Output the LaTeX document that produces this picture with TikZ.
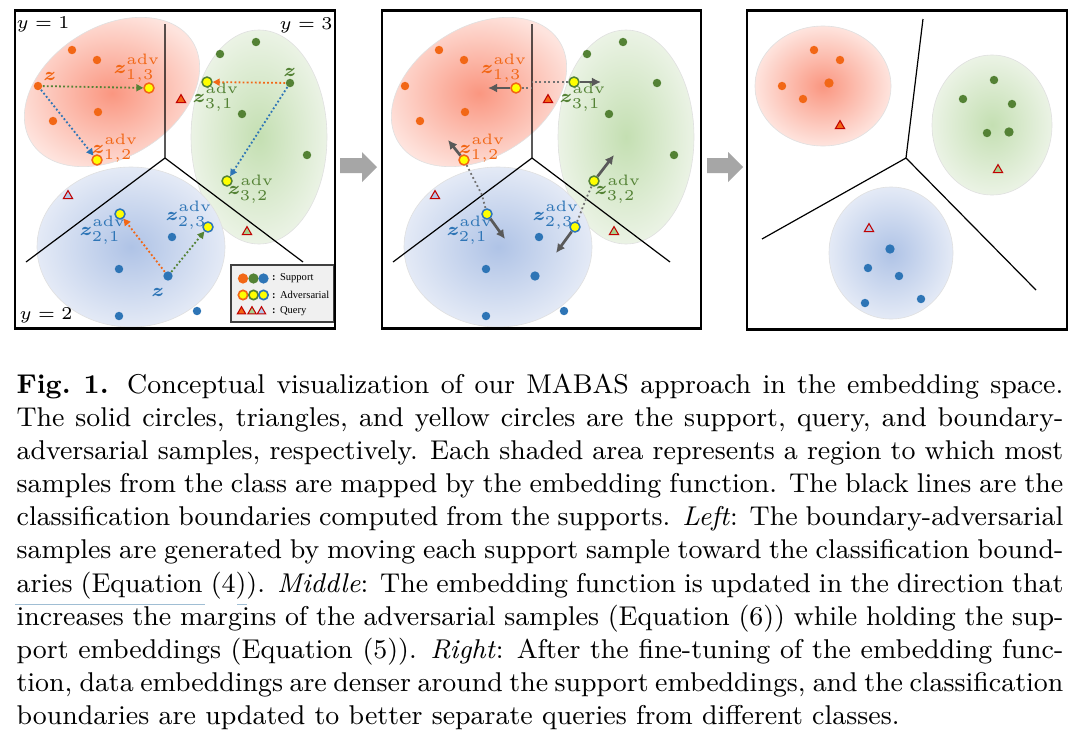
\documentclass[tikz,border=0pt]{standalone}
\usepackage{amsmath,bm}
\usepackage{fontspec}
\newfontfamily\legendfont{Liberation Serif}
\usetikzlibrary{arrows.meta,shapes.geometric}

\definecolor{cor}{RGB}{242,103,22}
\definecolor{cgr}{RGB}{84,130,53}
\definecolor{cbl}{RGB}{46,117,182}
\definecolor{cyel}{RGB}{255,255,0}
\definecolor{cqred}{RGB}{192,0,0}
\definecolor{cgl}{RGB}{169,209,142}
\definecolor{cbll}{RGB}{180,199,231}
\definecolor{redin}{RGB}{250,150,128}
\definecolor{redout}{RGB}{254,228,222}
\definecolor{grin}{RGB}{196,223,178}
\definecolor{grout}{RGB}{235,243,229}
\definecolor{blin}{RGB}{175,195,230}
\definecolor{blout}{RGB}{228,234,246}
\definecolor{darkg}{RGB}{89,89,89}
\definecolor{blockg}{RGB}{166,166,166}
\definecolor{linkblue}{RGB}{160,190,212}

\newcommand\advlab[1]{$\bm{z}^{\raisebox{0.35pt}{$\scriptstyle\mathrm{adv}$}}_{#1}$}

\tikzset{
 sdot/.style={circle, inner sep=0pt, minimum size=2.8pt, fill=#1},
 bigdot/.style={circle, inner sep=0pt, minimum size=3.1pt, fill=#1},
 adv/.style={circle, inner sep=0pt, minimum size=3.3pt, fill=cyel, draw=#1, line width=0.5pt},
 qtri/.style={regular polygon, regular polygon sides=3, inner sep=0pt, minimum size=3.6pt, fill=#1, draw=cqred, line width=0.35pt},
 lab/.style={text=#1, inner sep=0pt, font=\fontsize{6}{7}\selectfont},
 dotarr/.style={draw=#1, line width=0.6pt, dash pattern=on 0.6pt off 0.75pt, -{Triangle[length=2.3pt,width=2.3pt,fill=#1]}},
 gdot/.style={draw=darkg!85, line width=0.6pt, dash pattern=on 0.6pt off 0.9pt},
 garr/.style={draw=darkg, line width=0.9pt, -{Latex[length=3pt,width=3pt]}},
 bnd/.style={draw=black, line width=0.4pt},
 panelframe/.style={draw=black, line width=0.75pt},
 ellrim/.style={draw=black!12, line width=0.2pt},
 legdot/.style={circle, inner sep=0pt, minimum size=3.4pt, fill=#1},
 legadv/.style={circle, inner sep=0pt, minimum size=3.1pt, fill=cyel, draw=#1, line width=0.55pt},
 legtri/.style={regular polygon, regular polygon sides=3, inner sep=0pt, minimum size=3.2pt, fill=#1, draw=cqred, line width=0.35pt},
 legtext/.style={inner sep=0pt, anchor=west, font=\legendfont\fontsize{3.5}{4.2}\selectfont},
 blockarrow/.style={fill=blockg, draw=none},
}

\newcommand\commonpanel{%
  \shade[inner color=redin, outer color=redout, ellrim, rotate around={32:(112,92)}] (112,92) ellipse [x radius=95, y radius=65];
  \shade[inner color=grin, outer color=grout, ellrim] (259,137) ellipse [x radius=68, y radius=107];
  \shade[inner color=blin, outer color=blout, ellrim] (131,247) ellipse [x radius=94, y radius=80];
  \coordinate (J) at (165,158);
  \coordinate (BT) at (165,24);
  \coordinate (BL) at (26,262);
  \coordinate (BR) at (303,262);
  \draw[bnd] (BT) -- (J) -- (BL);
  \draw[bnd] (J) -- (BR);
  \node[sdot=cor] (r1) at (72,50) {};
  \node[sdot=cor] (r2) at (97,60) {};
  \node[sdot=cor] (rz) at (38,86) {};
  \node[sdot=cor] (r4) at (98,112) {};
  \node[sdot=cor] (r5) at (53,121) {};
  \node[sdot=cgr] (g1) at (256,42) {};
  \node[sdot=cgr] (g2) at (220,54) {};
  \node[sdot=cgr] (gz) at (290,83) {};
  \node[sdot=cgr] (g4) at (242,114) {};
  \node[sdot=cgr] (g5) at (307,155) {};
  \node[sdot=cbl] (b1) at (172,237) {};
  \node[sdot=cbl] (b2) at (119,269) {};
  \node[bigdot=cbl] (bz) at (168,276) {};
  \node[sdot=cbl] (b4) at (119,316) {};
  \node[sdot=cbl] (b5) at (197,311) {};
  \node[qtri=cor] (t1) at (181,100) {};
  \node[qtri=cgl] (t3) at (247,232) {};
  \node[qtri=cbll] (t2) at (68,196) {};
  \node[adv=cor] (a13) at (149,88) {};
  \node[adv=cor] (a12) at (97,160) {};
  \node[adv=cgr] (a31) at (207,82) {};
  \node[adv=cgr] (a32) at (227,181) {};
  \node[adv=cbl] (a21) at (120,214) {};
  \node[adv=cbl] (a23) at (208,227) {};
  \node[lab=cor] (l13) at (137,68) {\advlab{1,3}};
  \node[lab=cor] (l12) at (115,148) {\advlab{1,2}};
  \node[lab=cgr] (l31) at (216,97) {\advlab{3,1}};
  \node[lab=cgr] (l32) at (251,189) {\advlab{3,2}};
  \node[lab=cbl] (l21) at (103,230) {\advlab{2,1}};
  \node[lab=cbl] (l23) at (189,215) {\advlab{2,3}};
}

\begin{document}
\begin{tikzpicture}[x=0.3315pt, y=-0.3315pt]
\useasboundingbox (0,0) rectangle (1077,732);
\fill[white] (0,0) rectangle (1077,732);

% ---------- left panel ----------
\begin{scope}[name prefix=L-]
  \commonpanel
  \node[lab=cor] (zr) at (50,76) {$\bm{z}$};
  \node[lab=cgr] (zg) at (290,72) {$\bm{z}$};
  \node[lab=cbl] (zb) at (158,292) {$\bm{z}$};
  \node[lab=black] (y1) at (43,24) {$y=1$};
  \node[lab=black] (y3) at (306,25) {$y=3$};
  \node[lab=black] (y2) at (46,315) {$y=2$};
  \draw[dotarr=cgr] (rz) -- (a13);
  \draw[dotarr=cbl] (rz) -- (a12);
  \draw[dotarr=cor] (gz) -- (a31);
  \draw[dotarr=cbl] (gz) -- (a32);
  \draw[dotarr=cor] (bz) -- (a21);
  \draw[dotarr=cgr] (bz) -- (a23);
  % legend
  \node[draw=black!75, fill=black!6, line width=0.5pt, minimum width=34.1pt, minimum height=18.9pt, inner sep=0pt] (leg) at (282.5,293.5) {};
  \node[legdot=cor] (ld1) at (243,278.5) {};
  \node[legdot=cgr] (ld2) at (253.5,278.5) {};
  \node[legdot=cbl] (ld3) at (263.5,278.5) {};
  \node[legadv=cor] (la1) at (243,295) {};
  \node[legadv=cgr] (la2) at (253.5,295) {};
  \node[legadv=cbl] (la3) at (263.5,295) {};
  \node[legtri=cor] (lt1) at (241.5,311.5) {};
  \node[legtri=cgl] (lt2) at (252,311.5) {};
  \node[legtri=cbll] (lt3) at (261.5,311.5) {};
  \node[legtext] (lsup) at (271.5,278.5) {\textbf{:}\ \,Support};
  \node[legtext] (ladv) at (271.5,295) {\textbf{:}\ \,Adversarial};
  \node[legtext] (lqry) at (271.5,311.5) {\textbf{:}\ \,Query};
\end{scope}
\draw[panelframe] (15,10.5) rectangle (335,328.5);

% ---------- middle panel ----------
\begin{scope}[shift={(367,0)}, name prefix=M-]
  \commonpanel
  \coordinate (e13) at (121,88);
  \coordinate (e31) at (234,82);
  \coordinate (e12) at (81,140);
  \coordinate (e32) at (247,155);
  \coordinate (e21) at (138,239);
  \coordinate (e23) at (189,253);
  \coordinate (h1) at (165,88);
  \coordinate (h1b) at (165,82);
  \coordinate (h2) at (115,195);
  \coordinate (h3) at (219,199);
  \draw[gdot] (a13) -- (h1);
  \draw[gdot] (a31) -- (h1b);
  \draw[gdot] (a12) -- (h2) -- (a21);
  \draw[gdot] (a23) -- (h3) -- (a32);
  \draw[garr] (a13) -- (e13);
  \draw[garr] (a31) -- (e31);
  \draw[garr] (a12) -- (e12);
  \draw[garr] (a32) -- (e32);
  \draw[garr] (a21) -- (e21);
  \draw[garr] (a23) -- (e23);
\end{scope}
\draw[panelframe] (382,10.5) rectangle (701,328.5);

% ---------- right panel ----------
\begin{scope}[name prefix=R-]
  \shade[inner color=redin, outer color=redout, ellrim] (823,86) ellipse [x radius=68, y radius=60];
  \shade[inner color=grin, outer color=grout, ellrim] (992,125) ellipse [x radius=60, y radius=70];
  \shade[inner color=blin, outer color=blout, ellrim] (891,253) ellipse [x radius=62, y radius=66];
  \coordinate (J) at (906,158);
  \coordinate (BT) at (923,19);
  \coordinate (BL) at (762,239);
  \coordinate (BR) at (1036,290);
  \draw[bnd] (BT) -- (J) -- (BL);
  \draw[bnd] (J) -- (BR);
  \node[sdot=cor] (r1) at (814,50) {};
  \node[sdot=cor] (r2) at (840,60) {};
  \node[sdot=cor] (r3) at (782,86) {};
  \node[bigdot=cor] (r4) at (829,83) {};
  \node[sdot=cor] (r5) at (803,99) {};
  \node[sdot=cgr] (g1) at (994,80) {};
  \node[sdot=cgr] (g2) at (963,99) {};
  \node[sdot=cgr] (g3) at (1012,104) {};
  \node[sdot=cgr] (g4) at (987,133) {};
  \node[bigdot=cgr] (g5) at (1009,132) {};
  \node[bigdot=cbl] (b1) at (890,249) {};
  \node[sdot=cbl] (b2) at (868,268) {};
  \node[sdot=cbl] (b3) at (899,276) {};
  \node[sdot=cbl] (b4) at (865,303) {};
  \node[sdot=cbl] (b5) at (921,299) {};
  \node[qtri=cor] (t1) at (840,126) {};
  \node[qtri=cgl] (t3) at (998,170) {};
  \node[qtri=cbll] (t2) at (869,229) {};
\end{scope}
\draw[panelframe] (747,10.5) rectangle (1067,329.5);

% ---------- block arrows ----------
\fill[blockarrow] (340,158) -- (362,158) -- (362,152) -- (377,167) -- (362,182) -- (362,173) -- (340,173) -- cycle;
\fill[blockarrow] (707,158) -- (728,158) -- (728,152) -- (743,167) -- (728,182) -- (728,173) -- (707,173) -- cycle;

% ---------- caption ----------
\node[anchor=base west, inner sep=0pt, font=\fontsize{9}{11}\selectfont] (cap) at (16,393) {\vtop{\hsize=347pt \baselineskip=11pt
\hbox to\hsize{\textbf{Fig.~1.} Conceptual visualization of our MABAS approach in the embedding space.}
\hbox to\hsize{The solid circles, triangles, and yellow circles are the support, query, and boundary-}
\hbox to\hsize{adversarial samples, respectively. Each shaded area represents a region to which most}
\hbox to\hsize{samples from the class are mapped by the embedding function. The black lines are the}
\hbox to\hsize{classification boundaries computed from the supports. \textit{Left}: The boundary-adversarial}
\hbox to\hsize{samples are generated by moving each support sample toward the classification bound-}
\hbox to\hsize{aries (Equation (4)). \textit{Middle}: The embedding function is updated in the direction that}
\hbox to\hsize{increases the margins of the adversarial samples (Equation (6)) while holding the sup-}
\hbox to\hsize{port embeddings (Equation (5)). \textit{Right}: After the fine-tuning of the embedding func-}
\hbox to\hsize{tion, data embeddings are denser around the support embeddings, and the classification}
\hbox{boundaries are updated to better separate queries from different classes.}}};

\coordinate (u1) at (15,604);
\coordinate (u2) at (205,604);
\coordinate (u3) at (237,604);
\coordinate (u4) at (247,604);
\draw[linkblue, line width=0.3pt] (u1) -- (u2);
\draw[linkblue, line width=0.3pt] (u3) -- (u4);
\end{tikzpicture}
\end{document}
